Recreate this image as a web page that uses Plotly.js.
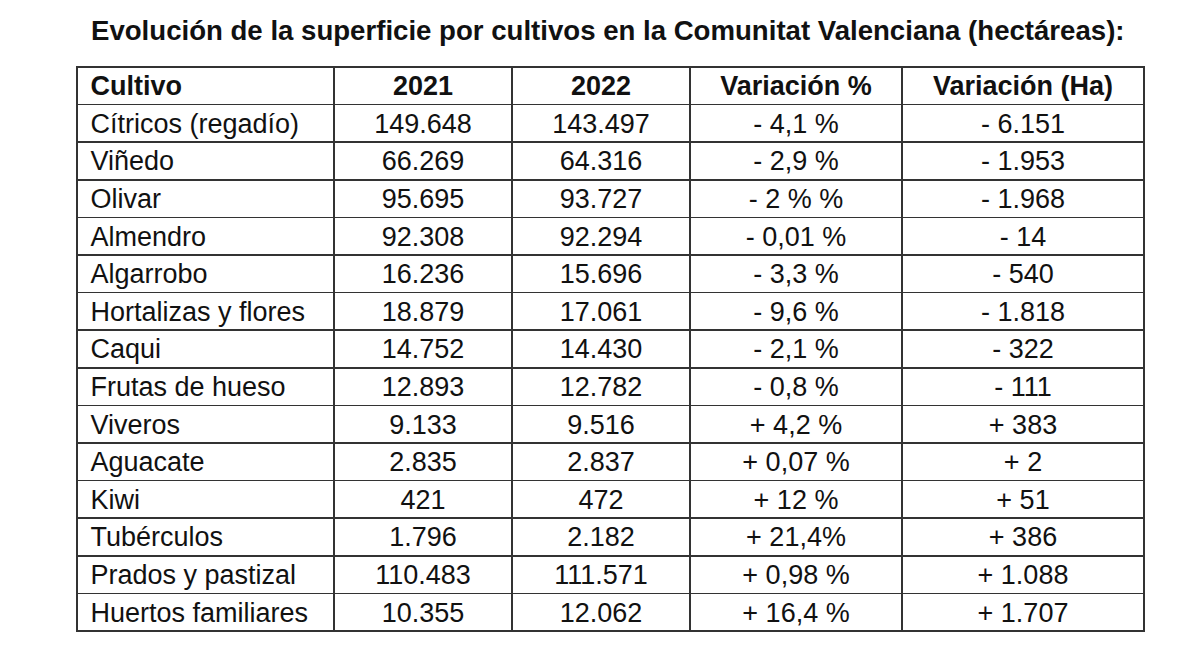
<!DOCTYPE html>
<html>
<head>
<meta charset="utf-8">
<script src="https://cdn.plot.ly/plotly-3.0.1.min.js"></script>
<style>
  html, body { margin: 0; padding: 0; background: #fff; }
  #plotArea { width: 1200px; height: 659px; }
</style>
</head>
<body>
<div id="plotArea"></div>
<script>
var headers = ["Cultivo", "2021", "2022", "Variación %", "Variación (Ha)"];
var cultivos = ["Cítricos (regadío)", "Viñedo", "Olivar", "Almendro", "Algarrobo",
    "Hortalizas y flores", "Caqui", "Frutas de hueso", "Viveros", "Aguacate",
    "Kiwi", "Tubérculos", "Prados y pastizal", "Huertos familiares"];
var sup2021 = ["149.648", "66.269", "95.695", "92.308", "16.236", "18.879", "14.752",
    "12.893", "9.133", "2.835", "421", "1.796", "110.483", "10.355"];
var sup2022 = ["143.497", "64.316", "93.727", "92.294", "15.696", "17.061", "14.430",
    "12.782", "9.516", "2.837", "472", "2.182", "111.571", "12.062"];
var varPct = ["- 4,1 %", "- 2,9 %", "- 2 % %", "- 0,01 %", "- 3,3 %", "- 9,6 %", "- 2,1 %",
    "- 0,8 %", "+ 4,2 %", "+ 0,07 %", "+ 12 %", "+ 21,4%", "+ 0,98 %", "+ 16,4 %"];
var varHa = ["- 6.151", "- 1.953", "- 1.968", "- 14", "- 540", "- 1.818", "- 322",
    "- 111", "+ 383", "+ 2", "+ 51", "+ 386", "+ 1.088", "+ 1.707"];

var W = 1200, H = 659;
var rowH = 37.6;
var fam = 'Liberation Sans, Arial, sans-serif';

// thin space to push the first column a little off the border
var pad = '\u2009';

var trace = {
    type: 'table',
    domain: {x: [77 / W, 1144 / W], y: [1 - 645 / H, 1 - 67 / H]},
    columnwidth: [257, 178, 178, 212, 242],
    header: {
        values: headers.map(function(h, i) { return (i === 0 ? pad : '') + h; }),
        align: ['left', 'center', 'center', 'center', 'center'],
        height: rowH,
        fill: {color: '#ffffff'},
        line: {color: '#333333', width: 1.5},
        font: {family: fam, size: 27, weight: 'bold', color: '#111111'}
    },
    cells: {
        values: [cultivos.map(function(c) { return pad + c; }), sup2021, sup2022, varPct, varHa],
        align: ['left', 'center', 'center', 'center', 'center'],
        height: rowH,
        fill: {color: '#ffffff'},
        line: {color: '#333333', width: 1.5},
        font: {family: fam, size: 27, color: '#111111'}
    }
};

var layout = {
    width: W,
    height: H,
    margin: {l: 0, r: 0, t: 0, b: 0},
    paper_bgcolor: '#ffffff',
    title: {
        text: '<b>Evolución de la superficie por cultivos en la Comunitat Valenciana (hectáreas):</b>',
        x: 91 / W, xref: 'container', xanchor: 'left',
        y: 1 - 30 / H, yref: 'container', yanchor: 'middle',
        font: {family: fam, size: 27.6, color: '#111111'}
    }
};

Plotly.newPlot("plotArea", [trace], layout, {displayModeBar: false, staticPlot: true});
</script>
</body>
</html>
